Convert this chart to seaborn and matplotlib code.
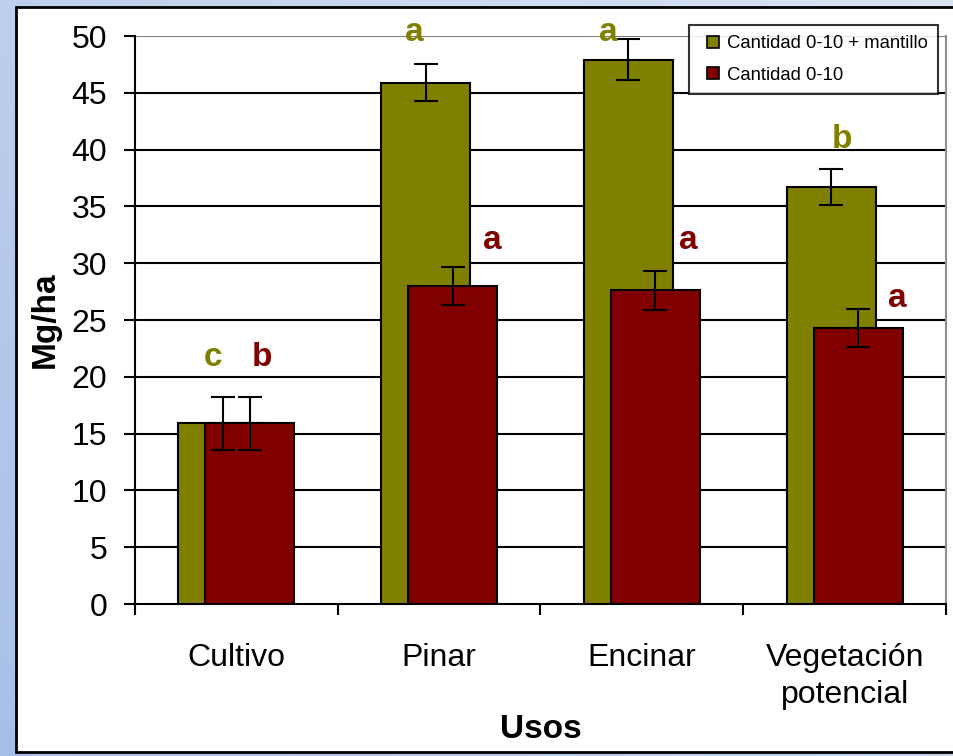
import numpy as np
import pandas as pd
import matplotlib
matplotlib.use("Agg")
import matplotlib.pyplot as plt
from matplotlib.patches import Rectangle
from matplotlib.lines import Line2D
import seaborn as sns

# ---- data -------------------------------------------------------------
usos = ["Cultivo", "Pinar", "Encinar", "Vegetación\npotencial"]
series_names = ["Cantidad 0-10 + mantillo", "Cantidad 0-10"]
con_mantillo = [15.9, 45.9, 47.9, 36.7]
con_mantillo_err = [2.35, 1.65, 1.8, 1.6]
sin_mantillo = [15.9, 28.0, 27.6, 24.3]
sin_mantillo_err = [2.35, 1.7, 1.7, 1.7]
letras_mantillo = ["c", "a", "a", "b"]
letras_sin = ["b", "a", "a", "a"]

# ---- layout ------------------------------------------------------------
OLIVE = "#808000"
MAROON = "#800000"
shift = 0.0666          # half distance between the two overlapping bars
bar_w = 0.44
# where each significance letter sits (x offset from category centre, y in Mg/ha)
letra_pos_mantillo = [(-0.116, 21.7), (-0.121, 50.3), (-0.165, 50.3), (-0.012, 40.9)]
letra_pos_sin = [(0.126, 21.7), (0.264, 32.0), (0.229, 32.0), (0.259, 26.9)]

sns.set_style("white")
plt.rcParams["font.family"] = ["Liberation Sans", "DejaVu Sans"]
plt.rcParams["text.color"] = "black"
plt.rcParams["axes.labelcolor"] = "black"
plt.rcParams["xtick.color"] = "black"
plt.rcParams["ytick.color"] = "black"

W, H = 954, 756
fig = plt.figure(figsize=(W / 100, H / 100), dpi=100)

# blue gradient backdrop
bg = fig.add_axes([0, 0, 1, 1], zorder=-10)
gx, gy = np.meshgrid(np.linspace(0, 1, 200), np.linspace(0, 1, 200))
t = np.clip(0.55 * gx + 0.45 * gy, 0, 1)
c0 = np.array([0.655, 0.749, 0.910])
c1 = np.array([0.855, 0.890, 0.950])
img = c0[None, None, :] * (1 - t[..., None]) + c1[None, None, :] * t[..., None]
bg.imshow(img, origin="lower", extent=[0, 1, 0, 1], aspect="auto")
bg.set_axis_off()

# white chart panel
fig.patches.append(Rectangle((16 / W, 1 - 752 / H), 1.2, (752 - 7) / H,
                             transform=fig.transFigure, facecolor="white",
                             edgecolor="black", linewidth=2, zorder=-5))

ax = fig.add_axes([135 / W, 1 - 604 / H, (946 - 135) / W, (604 - 36) / H])
ax.set_facecolor("none")

idx = np.arange(len(usos))
df_a = pd.DataFrame({"x": idx - shift, "y": con_mantillo})
df_b = pd.DataFrame({"x": idx + shift, "y": sin_mantillo})

sns.barplot(data=df_a, x="x", y="y", native_scale=True, width=bar_w,
            color=OLIVE, saturation=1, edgecolor="black", linewidth=1.5,
            errorbar=None, ax=ax, zorder=3)
sns.barplot(data=df_b, x="x", y="y", native_scale=True, width=bar_w,
            color=MAROON, saturation=1, edgecolor="black", linewidth=1.5,
            errorbar=None, ax=ax, zorder=4)

ax.errorbar(idx - shift, con_mantillo, yerr=con_mantillo_err, fmt="none",
            ecolor="black", elinewidth=1.5, capsize=8.5, capthick=1.5, zorder=6)
ax.errorbar(idx + shift, sin_mantillo, yerr=sin_mantillo_err, fmt="none",
            ecolor="black", elinewidth=1.5, capsize=8.5, capthick=1.5, zorder=6)

for i, (lt, (dx, yy)) in enumerate(zip(letras_mantillo, letra_pos_mantillo)):
    ax.text(i + dx, yy, lt, color=OLIVE, fontsize=24, fontweight="bold",
            ha="center", va="center", zorder=7, clip_on=False)
for i, (lt, (dx, yy)) in enumerate(zip(letras_sin, letra_pos_sin)):
    ax.text(i + dx, yy, lt, color=MAROON, fontsize=24, fontweight="bold",
            ha="center", va="center", zorder=7, clip_on=False)

# axes, ticks, grid
ax.set_xlim(-0.5, 3.5)
ax.set_ylim(0, 50)
ax.set_yticks(np.arange(0, 51, 5))
ax.tick_params(axis="y", which="major", direction="out", length=8, width=1.5,
               color="black", labelcolor="black", labelsize=23, pad=12, left=True)
ax.set_xticks(idx)
ax.set_xticklabels(usos)
ax.set_xticks(np.arange(-0.5, 3.6, 1), minor=True)
ax.tick_params(axis="x", which="major", length=0, labelsize=23, pad=28,
               labelcolor="black")
ax.tick_params(axis="x", which="minor", direction="out", length=8, width=1.5,
               color="black", bottom=True)
for lab in ax.get_xticklabels():
    lab.set_linespacing(1.3)

ax.set_axisbelow(True)
for yv in np.arange(5, 50, 5):
    ax.axhline(yv, color="black", linewidth=1.5, zorder=1)
ax.axhline(50, color="#808080", linewidth=1.5, zorder=1)

for side in ["left", "bottom"]:
    ax.spines[side].set_color("black")
    ax.spines[side].set_linewidth(1.5)
ax.spines["right"].set_visible(True)
ax.spines["right"].set_color("#909090")
ax.spines["right"].set_linewidth(1.5)
ax.spines["top"].set_visible(False)

ax.set_ylabel("Mg/ha", fontsize=24, fontweight="bold")
ax.yaxis.set_label_coords(-0.091, 0.5)
ax.set_xlabel("Usos", fontsize=24, fontweight="bold")
ax.xaxis.set_label_coords(0.5, -0.193)

handles = [Line2D([], [], linestyle="none", marker="s", markersize=8,
                  markerfacecolor=c, markeredgecolor="black", markeredgewidth=1.2)
           for c in (OLIVE, MAROON)]
leg = ax.legend(handles, series_names, loc="upper right",
                bbox_to_anchor=(938 / W, 1 - 25 / H),
                bbox_transform=fig.transFigure, borderaxespad=0,
                fontsize=13.3, frameon=True, fancybox=False,
                handlelength=1.5, handletextpad=0.0,
                borderpad=0.55, labelspacing=0.8)
leg.get_frame().set_edgecolor("black")
leg.get_frame().set_linewidth(1.5)
leg.set_zorder(10)

fig.savefig("out.png", dpi=100)
